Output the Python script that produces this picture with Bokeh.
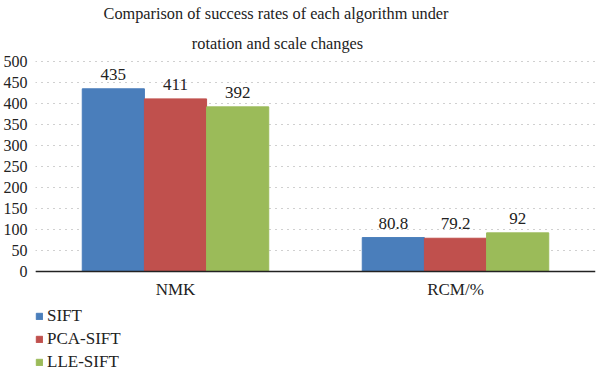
from bokeh.plotting import figure
from bokeh.models import (ColumnDataSource, FactorRange, Range1d, Legend, LegendItem,
                          LabelSet, Label, FixedTicker, Span)
from bokeh.transform import dodge
from bokeh.embed import file_html
from bokeh.resources import INLINE

categories = ["NMK", "RCM/%"]
series = ["SIFT", "PCA-SIFT", "LLE-SIFT"]
sift = [435, 80.8]
pca_sift = [411, 79.2]
lle_sift = [392, 92]
y_ticks = [0, 50, 100, 150, 200, 250, 300, 350, 400, 450, 500]
colors = ["#4a7ebb", "#c0504d", "#9bbb59"]
title_lines = ["Comparison of success rates of each algorithm under",
               "rotation and scale changes"]

FONT = "Liberation Serif"
TXT = "#222222"

src = ColumnDataSource(data=dict(
    cat=categories,
    zero=[0] * len(categories),
    SIFT=sift,
    PCA=pca_sift,
    LLE=lle_sift,
    SIFT_t=[str(v) for v in sift],
    PCA_t=[str(v) for v in pca_sift],
    LLE_t=[str(v) for v in lle_sift],
))

# the frame fills the full height; value 500 sits 61px from the top, 0 sits 271px from the top
FRAME_H = 377
TOP_PX, ZERO_PX = 61, 271
units_per_px = 500 / (ZERO_PX - TOP_PX)
y_end = 500 + TOP_PX * units_per_px
y_start = -(FRAME_H - ZERO_PX) * units_per_px

p = figure(x_range=FactorRange(*categories, range_padding=0), y_range=Range1d(y_start, y_end),
           frame_width=560, frame_height=FRAME_H, output_backend="svg", toolbar_location=None,
           min_border_top=0, min_border_right=6, min_border_left=34, min_border_bottom=0)
p.outline_line_color = None
p.title = None

w = 0.222
cols = ["SIFT", "PCA", "LLE"]
offs = [-w, 0, w]
renderers = []
for c, o, col in zip(cols, offs, colors):
    r = p.vbar(x=dodge("cat", o, range=p.x_range), top=c, width=w, source=src,
               fill_color=col, line_color=col)
    renderers.append(r)
    p.add_layout(LabelSet(x=dodge("cat", o, range=p.x_range), y=c, text=c + "_t", source=src,
                          text_align="center", text_baseline="alphabetic", y_offset=9,
                          text_font=FONT, text_font_size="17px", text_color=TXT))

# category axis drawn at value 0
p.xaxis.visible = False
p.add_layout(Span(location=0, dimension="width", line_color=TXT, line_width=1.5))
p.add_layout(LabelSet(x="cat", y="zero", text="cat", source=src, text_align="center",
                      text_baseline="alphabetic", y_offset=-23,
                      text_font=FONT, text_font_size="17px", text_color=TXT))

# value axis
p.yaxis.ticker = FixedTicker(ticks=y_ticks)
p.yaxis.axis_line_color = None
p.yaxis.major_tick_line_color = None
p.yaxis.minor_tick_line_color = None
p.yaxis.major_label_text_font = FONT
p.yaxis.major_label_text_font_size = "16px"
p.yaxis.major_label_text_color = TXT
p.yaxis.major_label_standoff = 2

p.xgrid.grid_line_color = None
p.ygrid.ticker = FixedTicker(ticks=y_ticks)
p.ygrid.grid_line_color = "#a0a0a0"
p.ygrid.grid_line_dash = "1 5"
p.ygrid.grid_line_width = 1

# two-line title, placed in screen units from the frame's bottom-left corner
for txt, xs, ys in zip(title_lines, [240.5, 242], [FRAME_H - 13, FRAME_H - 43]):
    p.add_layout(Label(x=xs, y=ys, x_units="screen", y_units="screen", text=txt,
                       text_align="center", text_baseline="alphabetic",
                       text_font=FONT, text_font_size="16.3px", text_color=TXT))

legend = Legend(items=[LegendItem(label=s, renderers=[r]) for s, r in zip(series, renderers)],
                orientation="vertical", location=(0, 5),
                label_text_font=FONT, label_text_font_size="17px", label_text_color=TXT,
                glyph_width=8, glyph_height=8, label_height=20, spacing=3,
                padding=0, margin=0, label_standoff=4,
                border_line_color=None, background_fill_alpha=0)
p.add_layout(legend, "center")

open("out.html", "w").write(file_html(p, INLINE))
